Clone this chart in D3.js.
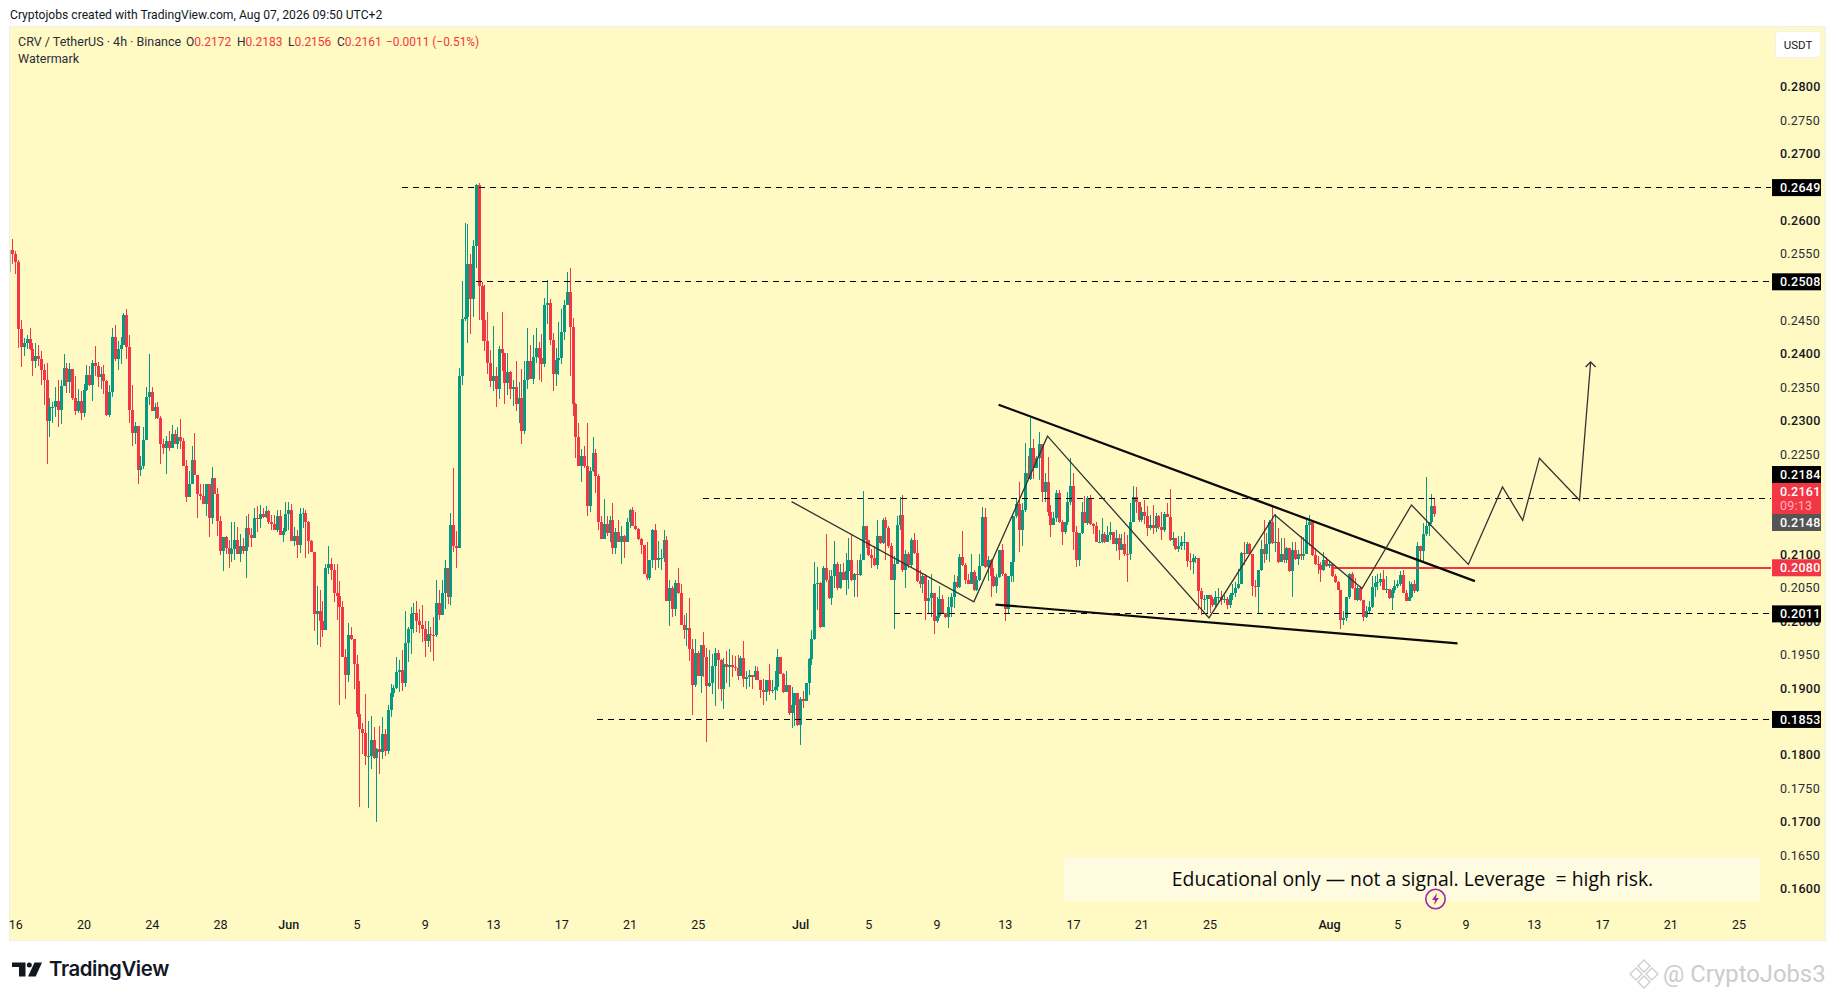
<!DOCTYPE html>
<html>
<head>
<meta charset="utf-8">
<script src="https://cdn.jsdelivr.net/npm/d3@7/dist/d3.min.js"></script>
<style>
body { margin: 0; background: #fff; }
text { font-family: Roboto, sans-serif; }
</style>
</head>
<body>
<svg id="chart" width="1835" height="1000"></svg>
<script>
// prices are in 0.0001 USDT, one value per 4h bar
var firstOpen = 2556;
var closes = [
2550,2537,2437,2411,2416,2423,2407,2390,2397,2393,2376,2361,2300,2321,2321,2329,2316,2352,2379,2358,
2377,2334,2314,2329,2312,2346,2368,2354,2386,2382,2366,2370,2360,2308,2343,2425,2392,2407,2414,2458,
2411,2316,2282,2292,2226,2233,2271,2335,2343,2315,2320,2304,2265,2259,2270,2259,2280,2265,2275,2269,
2232,2186,2206,2241,2219,2190,2187,2176,2205,2154,2214,2191,2150,2105,2126,2110,2101,2108,2121,2101,
2112,2105,2140,2129,2125,2154,2153,2160,2156,2165,2148,2146,2136,2157,2129,2135,2161,2166,2120,2127,
2114,2161,2162,2148,2120,2103,2011,2016,2000,1987,2079,2086,2076,2042,2038,2021,1946,1920,1980,1973,
1936,1861,1839,1833,1798,1798,1822,1795,1809,1805,1831,1806,1867,1893,1900,1924,1927,1908,1967,1989,
2011,2013,2001,1994,1988,1970,1981,1980,1979,2028,2010,2043,2079,2036,2144,2112,2110,2367,2453,2455,
2535,2483,2562,2653,2501,2451,2420,2387,2360,2367,2347,2407,2401,2357,2373,2347,2351,2325,2334,2284,
2361,2390,2363,2396,2409,2394,2385,2474,2477,2421,2370,2391,2394,2433,2474,2492,2441,2325,2276,2233,
2248,2233,2173,2225,2252,2218,2148,2123,2146,2132,2152,2109,2134,2119,2128,2119,2149,2167,2142,2138,
2123,2114,2071,2064,2092,2137,2091,2095,2095,2122,2031,2049,2019,2057,2042,1995,1987,1990,1959,1905,
1953,1918,1964,1947,1903,1907,1933,1952,1942,1898,1936,1932,1935,1931,1930,1918,1945,1913,1917,1919,
1916,1925,1912,1897,1894,1912,1895,1897,1901,1947,1921,1894,1905,1862,1874,1892,1844,1884,1880,1907,
1943,1973,2055,2057,1991,2079,2061,2035,2068,2086,2049,2073,2062,2075,2092,2061,2071,2069,2092,2143,
2121,2099,2095,2084,2128,2117,2152,2139,2113,2061,2086,2144,2159,2076,2100,2084,2122,2102,2060,2056,
2067,2031,2035,2042,2001,2008,2034,2012,2006,2021,2037,2058,2051,2096,2084,2062,2056,2074,2046,2062,
2082,2156,2081,2092,2067,2052,2066,2107,2070,2018,2067,2089,2157,2176,2137,2167,2222,2213,2259,2230,
2245,2266,2193,2209,2164,2144,2154,2192,2148,2134,2149,2179,2203,2133,2091,2132,2164,2147,2184,2146,
2142,2118,2119,2130,2119,2129,2134,2116,2124,2107,2116,2101,2100,2148,2186,2179,2151,2163,2157,2139,
2144,2139,2157,2141,2136,2161,2156,2121,2124,2108,2112,2118,2119,2090,2089,2094,2095,2045,2034,2034,
2039,2033,2025,2037,2037,2032,2034,2025,2040,2042,2050,2056,2102,2100,2116,2100,2052,2051,2077,2108,
2101,2116,2148,2117,2118,2089,2101,2092,2109,2075,2106,2093,2101,2098,2101,2144,2149,2099,2085,2084,
2076,2091,2082,2085,2067,2058,2047,2002,2005,2037,2070,2050,2032,2050,2032,2006,2015,2021,2051,2057,
2059,2063,2047,2048,2035,2046,2053,2055,2069,2042,2031,2037,2055,2045,2113,2105,2130,2142,2149,2172,2161
];
var highs = [
2572,2554,2541,2451,2424,2428,2439,2417,2417,2414,2405,2385,2386,2334,2328,2350,2361,2361,2400,2386,
2386,2376,2367,2347,2344,2355,2383,2382,2391,2412,2388,2381,2383,2361,2353,2439,2443,2419,2425,2461,
2467,2428,2353,2298,2292,2248,2290,2350,2400,2350,2327,2328,2307,2273,2277,2284,2293,2286,2291,2302,
2274,2242,2225,2262,2281,2219,2205,2205,2205,2205,2231,2214,2200,2157,2126,2127,2121,2149,2148,2141,
2131,2124,2157,2160,2140,2169,2173,2174,2169,2172,2166,2159,2159,2166,2166,2140,2178,2178,2176,2141,
2136,2170,2169,2167,2150,2121,2103,2052,2046,2031,2085,2112,2094,2086,2086,2060,2031,1959,1998,1992,
1973,1949,1910,1847,1891,1850,1858,1841,1810,1843,1856,1839,1875,1906,1905,1946,1942,1957,2016,1991,
2021,2027,2030,2019,2024,2001,2001,1991,2007,2061,2047,2061,2091,2079,2162,2229,2135,2379,2509,2596,
2595,2550,2570,2655,2656,2507,2503,2463,2406,2442,2381,2412,2463,2402,2402,2375,2361,2390,2358,2378,
2390,2439,2414,2429,2439,2418,2430,2484,2511,2483,2431,2409,2448,2468,2481,2523,2529,2454,2327,2297,
2258,2263,2297,2231,2275,2258,2221,2158,2183,2158,2158,2177,2140,2152,2143,2129,2155,2168,2171,2164,
2140,2125,2114,2119,2092,2138,2146,2120,2108,2137,2128,2061,2053,2061,2080,2056,2010,2012,2035,1974,
1974,1956,1964,1984,1960,1957,1951,1960,1957,1943,1945,1955,1959,1950,1948,1950,1948,1970,1925,1927,
1920,1933,1932,1912,1913,1912,1936,1912,1925,1958,1947,1922,1925,1905,1901,1893,1893,1887,1896,1908,
1945,1987,2089,2081,2058,2082,2131,2077,2077,2120,2088,2085,2087,2102,2124,2129,2072,2092,2100,2195,
2143,2122,2108,2112,2151,2128,2154,2156,2142,2117,2097,2158,2186,2189,2107,2104,2124,2132,2122,2077,
2072,2070,2062,2070,2043,2037,2053,2040,2012,2036,2043,2069,2067,2101,2135,2087,2070,2101,2077,2068,
2101,2171,2169,2097,2093,2080,2070,2107,2115,2072,2067,2089,2157,2184,2208,2177,2267,2247,2304,2272,
2247,2283,2266,2222,2246,2174,2164,2196,2196,2152,2149,2194,2244,2222,2143,2132,2179,2187,2188,2189,
2147,2148,2137,2154,2134,2142,2148,2134,2137,2131,2131,2134,2129,2177,2203,2201,2179,2171,2182,2172,
2159,2174,2162,2159,2163,2163,2177,2198,2134,2124,2128,2127,2134,2119,2102,2100,2097,2094,2050,2039,
2039,2040,2037,2045,2050,2045,2040,2037,2042,2055,2058,2078,2104,2119,2119,2117,2100,2062,2077,2122,
2151,2132,2151,2173,2161,2139,2125,2124,2111,2109,2119,2119,2106,2127,2126,2152,2159,2149,2109,2097,
2088,2103,2096,2090,2087,2070,2060,2047,2016,2037,2072,2073,2065,2052,2052,2032,2023,2030,2067,2067,
2070,2072,2076,2067,2048,2050,2062,2062,2075,2077,2047,2060,2058,2061,2119,2113,2147,2216,2149,2190,2183
];
var lows = [
2534,2520,2409,2381,2397,2407,2406,2367,2379,2382,2353,2324,2235,2276,2297,2306,2290,2295,2352,2341,
2341,2331,2308,2311,2301,2306,2345,2352,2329,2367,2350,2348,2340,2307,2305,2336,2390,2376,2385,2413,
2392,2296,2263,2266,2206,2218,2228,2271,2323,2314,2302,2302,2236,2251,2221,2255,2261,2265,2258,2258,
2232,2179,2186,2205,2219,2155,2182,2176,2157,2126,2146,2191,2127,2099,2075,2100,2079,2089,2091,2101,
2089,2101,2065,2111,2111,2124,2134,2139,2154,2154,2146,2136,2136,2134,2129,2119,2134,2136,2120,2112,
2094,2102,2140,2094,2101,2103,1986,1965,1962,1977,1988,2070,2061,2029,2002,1875,1946,1883,1909,1972,
1899,1857,1722,1801,1785,1720,1779,1794,1699,1771,1794,1799,1801,1856,1887,1898,1894,1896,1902,1939,
1951,1983,1984,1982,1969,1946,1962,1954,1941,1976,2002,2015,2018,2026,2025,2104,2079,2110,2354,2449,
2417,2430,2456,2529,2451,2419,2404,2370,2350,2345,2321,2333,2374,2325,2339,2333,2322,2315,2297,2266,
2280,2348,2363,2355,2387,2361,2358,2381,2445,2414,2345,2352,2369,2385,2421,2474,2367,2307,2244,2233,
2209,2230,2158,2164,2224,2192,2137,2123,2123,2128,2119,2101,2101,2119,2086,2095,2119,2140,2142,2137,
2122,2101,2070,2062,2062,2080,2077,2079,2077,2089,2031,1993,2007,2008,2041,1995,1974,1963,1941,1860,
1902,1918,1893,1917,1819,1902,1891,1873,1898,1880,1868,1907,1902,1917,1926,1912,1925,1902,1898,1902,
1898,1912,1912,1885,1875,1880,1890,1892,1882,1896,1921,1893,1894,1860,1840,1843,1843,1815,1870,1890,
1890,1935,1972,2017,1990,1991,2058,2034,2025,2050,2047,2048,2062,2040,2048,2060,2037,2037,2068,2094,
2109,2097,2080,2083,2078,2116,2116,2092,2109,2061,1989,2085,2137,2074,2049,2080,2080,2101,2058,2050,
2042,2002,2012,2007,1981,1998,2005,2012,2005,1990,2007,2020,2050,2050,2082,2055,2055,2055,2045,2045,
2060,2082,2080,2060,2036,2051,2043,2065,2067,2001,2012,2059,2059,2154,2103,2112,2164,2213,2212,2213,
2229,2212,2178,2178,2158,2126,2144,2148,2147,2114,2131,2144,2174,2107,2081,2083,2130,2147,2144,2144,
2131,2118,2117,2117,2117,2119,2122,2115,2105,2092,2107,2097,2058,2092,2148,2162,2149,2149,2146,2128,
2137,2130,2134,2138,2121,2134,2156,2120,2113,2107,2103,2106,2107,2081,2077,2070,2087,2017,2009,2017,
2012,2012,2022,2022,2027,2025,2027,2018,2020,2032,2036,2048,2056,2084,2100,2100,2038,2037,2011,2075,
2087,2092,2089,2116,2104,2087,2090,2087,2087,2073,2036,2092,2084,2092,2092,2100,2112,2098,2084,2070,
2058,2075,2081,2080,2066,2057,2046,1989,1995,2001,2033,2048,2032,2031,2030,2001,2005,2012,2020,2037,
2047,2052,2046,2042,2034,2017,2043,2050,2052,2042,2031,2030,2035,2043,2044,2091,2089,2128,2128,2146,2156
];

// a 4h candle opens where the one before it closed
var opens = [firstOpen].concat(closes.slice(0, -1));

// 0.2500, 0.2200 and 0.2150 sit fully behind the price boxes in the chart, so they are left out
var priceTicks = [1600,1650,1700,1750,1800,1850,1900,1950,2000,2050,2100,2250,2300,2350,2400,2450,2550,2600,2650,2700,2750,2800];
var timeTicks = ["05-16","05-20","05-24","05-28","06-01","06-05","06-09","06-13","06-17","06-21","06-25","07-01","07-05","07-09","07-13","07-17","07-21","07-25","08-01","08-05","08-09","08-13","08-17","08-21","08-25"];
var timeTickLabels = ["16","20","24","28","Jun","5","9","13","17","21","25","Jul","5","9","13","17","21","25","Aug","5","9","13","17","21","25"];

// dashed levels: price and the bar where each starts
var levelPrices = [2649,2508,2184,2011,1853];
var levelStarts = [137,163,242.7,310,205.7];
var redLevel = 2080, redLevelStart = 463.9;
var lineEnd = 618.3;

// the candle cut off by the left edge: bar, high, low
var cutBar = [-0.7, 2556, 2523];

// drawn lines as [bar, price]
var upperTrend = [[346.8,2324],[514.3,2060]];
var lowerTrend = [[345.7,2025],[508.2,1967]];
var zigzag = [[274,2179],[338.1,2029],[364,2277],[420.8,2005],[443.9,2159],[474.6,2049],[492,2174],[512,2085],[524,2201],[531.1,2151],[537,2244],[551.1,2181],[555,2388]];

var green = "#089981", red = "#f23645", bg = "#fff9c4";

var svg = d3.select("#chart");

function barTime(i) { return new Date(Date.UTC(2026, 4, 15, 20) + i * 4 * 3600 * 1000); }
function tickDate(s) { return new Date("2026-" + s + "T00:00:00Z"); }

var x = d3.scaleUtc()
  .domain([tickDate("05-16"), tickDate("08-25")])
  .range([15.3, 1738.5]);
var y = d3.scaleLinear().domain([1600, 2800]).range([888.5, 86.7]);

function xBar(i) { return x(barTime(i)); }
function fmt(p) { return (p / 10000).toFixed(4); }

// plot background
svg.append("rect").attr("x", 9.5).attr("y", 26.5).attr("width", 1816).attr("height", 914)
  .attr("fill", bg).attr("stroke", "#efefef");

svg.append("clipPath").attr("id", "plot").append("rect")
  .attr("x", 10).attr("y", 27).attr("width", 1815).attr("height", 913);

// axes first, the price boxes go over them
var priceAxis = svg.append("g").attr("transform", "translate(1780,0)")
  .call(d3.axisRight(y).tickValues(priceTicks).tickSize(0).tickPadding(0).tickFormat(fmt));
priceAxis.select(".domain").remove();
priceAxis.selectAll("text")
  .attr("font-size", 12.5).attr("letter-spacing", "0.25")
  .attr("font-family", "Roboto, sans-serif")
  .attr("fill", d => d % 100 == 0 ? "#131722" : "#2a2e39")
  .attr("font-weight", d => d % 100 == 0 ? 500 : 400);

var timeAxis = svg.append("g").attr("transform", "translate(0,925)")
  .call(d3.axisBottom(x).tickValues(timeTicks.map(tickDate)).tickSize(0).tickPadding(0)
    .tickFormat((d, i) => timeTickLabels[i]));
timeAxis.select(".domain").remove();
timeAxis.selectAll("text")
  .attr("dy", "0.35em")
  .attr("font-size", 12.5)
  .attr("font-family", "Roboto, sans-serif")
  .attr("fill", "#131722")
  .attr("font-weight", (d, i) => isNaN(timeTickLabels[i]) ? 500 : 400);

// candles
var bars = svg.append("g").attr("clip-path", "url(#plot)").attr("shape-rendering", "crispEdges");
bars.append("rect")
  .attr("x", Math.round(xBar(cutBar[0]))).attr("width", 1)
  .attr("y", y(cutBar[1])).attr("height", y(cutBar[2]) - y(cutBar[1]))
  .attr("fill", "#b8b8b8");
var candle = bars.selectAll("g").data(closes).enter().append("g")
  .attr("fill", (d, i) => d >= opens[i] ? green : red);
candle.append("rect")
  .attr("x", (d, i) => Math.round(xBar(i)))
  .attr("width", 1)
  .attr("y", (d, i) => y(highs[i]))
  .attr("height", (d, i) => y(lows[i]) - y(highs[i]));
candle.append("rect")
  .attr("x", (d, i) => Math.round(xBar(i)) - 1)
  .attr("width", 3)
  .attr("y", (d, i) => y(Math.max(opens[i], d)))
  .attr("height", (d, i) => Math.max(1, Math.abs(y(opens[i]) - y(d))));

// levels
var levels = svg.append("g").attr("shape-rendering", "crispEdges");
levelPrices.forEach(function(p, k) {
  levels.append("line")
    .attr("x1", xBar(levelStarts[k])).attr("x2", xBar(lineEnd))
    .attr("y1", y(p)).attr("y2", y(p))
    .attr("stroke", "#000").attr("stroke-width", 1).attr("stroke-dasharray", "6 5");
});
levels.append("line")
  .attr("x1", xBar(redLevelStart)).attr("x2", xBar(lineEnd))
  .attr("y1", y(redLevel)).attr("y2", y(redLevel))
  .attr("stroke", red).attr("stroke-width", 2);

// drawn lines
var line = d3.line().x(d => xBar(d[0])).y(d => y(d[1]));
[upperTrend, lowerTrend].forEach(function(t) {
  svg.append("path").attr("d", line(t)).attr("fill", "none")
    .attr("stroke", "#0a0a0a").attr("stroke-width", 2.2);
});
svg.append("path").attr("d", line(zigzag)).attr("fill", "none")
  .attr("stroke", "#333").attr("stroke-width", 1.3);

// arrow head on the last point
var tip = zigzag[zigzag.length - 1];
var tx = xBar(tip[0]), ty = y(tip[1]);
svg.append("path").attr("d", "M" + (tx - 5) + "," + (ty + 5) + "L" + tx + "," + ty + "L" + (tx + 5) + "," + (ty + 5))
  .attr("fill", "none").attr("stroke", "#333").attr("stroke-width", 1.3);

// price boxes
function priceBox(cy, h, fill, label) {
  svg.append("rect").attr("x", 1772).attr("y", cy - h / 2).attr("width", 49).attr("height", h).attr("fill", fill);
  if (label) {
    svg.append("text").attr("x", 1780).attr("y", cy).attr("dy", "0.35em")
      .attr("font-size", 12.5).attr("font-weight", 500).attr("letter-spacing", "0.25").attr("fill", "#fff").text(label);
  }
}
[2649, 2508, 2011, 1853].forEach(p => priceBox(y(p), 17, "#000", fmt(p)));
priceBox(y(redLevel), 17, red, fmt(redLevel));
// these three are pushed apart by the chart so they do not overlap
priceBox(474.5, 17, "#000", fmt(2184));
priceBox(498.5, 31, red, null);
priceBox(522.5, 17, "#555", fmt(2148));
svg.append("text").attr("x", 1780).attr("y", 491.7).attr("dy", "0.35em").attr("font-size", 12.5).attr("font-weight", 500)
  .attr("letter-spacing", "0.25").attr("fill", "#fff").text(fmt(2161));
svg.append("text").attr("x", 1780).attr("y", 505.7).attr("dy", "0.35em").attr("font-size", 12.5)
  .attr("letter-spacing", "0.25").attr("fill", "#ffb3ba").text("09:13");

// USDT button
svg.append("rect").attr("x", 1775.5).attr("y", 31.5).attr("width", 45).attr("height", 26).attr("rx", 3)
  .attr("fill", "#fff").attr("stroke", "#f0f0f0");
svg.append("text").attr("x", 1798).attr("y", 44.5).attr("dy", "0.35em").attr("text-anchor", "middle")
  .attr("font-size", 11.5).attr("fill", "#131722").text("USDT");

// header and legend
svg.append("text").attr("x", 10).attr("y", 15).attr("dy", "0.35em").attr("font-size", 12.13)
  .attr("fill", "#131722").text("Cryptojobs created with TradingView.com, Aug 07, 2026 09:50 UTC+2");
svg.append("text").attr("x", 18).attr("y", 41.5).attr("dy", "0.35em").attr("font-size", 12.5)
  .attr("fill", "#2a2e39").text("CRV / TetherUS · 4h · Binance");
svg.append("text").attr("x", 18).attr("y", 58.5).attr("dy", "0.35em").attr("font-size", 12.5)
  .attr("fill", "#2a2e39").text("Watermark");

var ohlcNames = ["O", "H", "L", "C"];
var ohlcValues = [2172, 2183, 2156, 2161];
var ohlcX = [186, 237, 288, 337];
ohlcNames.forEach(function(n, k) {
  var t = svg.append("text").attr("x", ohlcX[k]).attr("y", 41.5).attr("dy", "0.35em").attr("font-size", 12);
  t.append("tspan").attr("fill", "#2a2e39").text(n);
  t.append("tspan").attr("fill", red).text(fmt(ohlcValues[k]));
});
svg.append("text").attr("x", 386).attr("y", 41.5).attr("dy", "0.35em").attr("font-size", 11.9)
  .attr("fill", red).text("−0.0011 (−0.51%)");

// note box
svg.append("rect").attr("x", 1064).attr("y", 857).attr("width", 696).attr("height", 44).attr("fill", "#fffbe1");
svg.append("text").attr("x", 1412.5).attr("y", 879.5).attr("dy", "0.35em").attr("text-anchor", "middle")
  .attr("font-size", 19.4).attr("font-weight", 500).attr("fill", "#0a0a0a").attr("xml:space", "preserve").style("white-space", "pre")
  .style("font-family", "'Open Sans', sans-serif")
  .text("Educational only — not a signal. Leverage  = high risk.");

// lightning marker
var mark = svg.append("g").attr("transform", "translate(1435.5,899)");
mark.append("circle").attr("r", 9.7).attr("fill", bg).attr("stroke", "#9c27b0").attr("stroke-width", 1.6);
mark.append("path").attr("d", "M1.5,-6L-3.5,1H-0.5L-1.5,6L3.5,-1H0.5Z").attr("fill", "#9c27b0");

// TradingView logo
var logo = svg.append("g").attr("transform", "translate(12,962.5)").attr("fill", "#131722");
logo.append("path").attr("d", "M0,0H13.5V14H7V4.5H0Z");
logo.append("circle").attr("cx", 17.3).attr("cy", 2.5).attr("r", 2.5);
logo.append("path").attr("d", "M22.5,0H30L23.7,14H16Z");
svg.append("text").attr("x", 49).attr("y", 969).attr("dy", "0.35em").attr("font-size", 20.4)
  .attr("font-weight", 600).attr("fill", "#131722").style("font-family", "Inter, sans-serif").attr("letter-spacing", "-0.4").text("TradingView");

// repost watermark
var wm = svg.append("g").attr("transform", "translate(1644,974)").attr("fill", "none").attr("stroke", "#cfcfcf").attr("stroke-width", 1.4);
wm.append("path").attr("d", "M0,-14L6,-8L0,-2L-6,-8Z");
wm.append("path").attr("d", "M0,14L6,8L0,2L-6,8Z");
wm.append("path").attr("d", "M-8,-6L-2,0L-8,6L-14,0Z");
wm.append("path").attr("d", "M8,-6L14,0L8,6L2,0Z");
svg.append("text").attr("x", 1663).attr("y", 974).attr("dy", "0.35em").attr("font-size", 23.8)
  .attr("fill", "#cccccc").text("@ CryptoJobs3");
</script>
</body>
</html>
